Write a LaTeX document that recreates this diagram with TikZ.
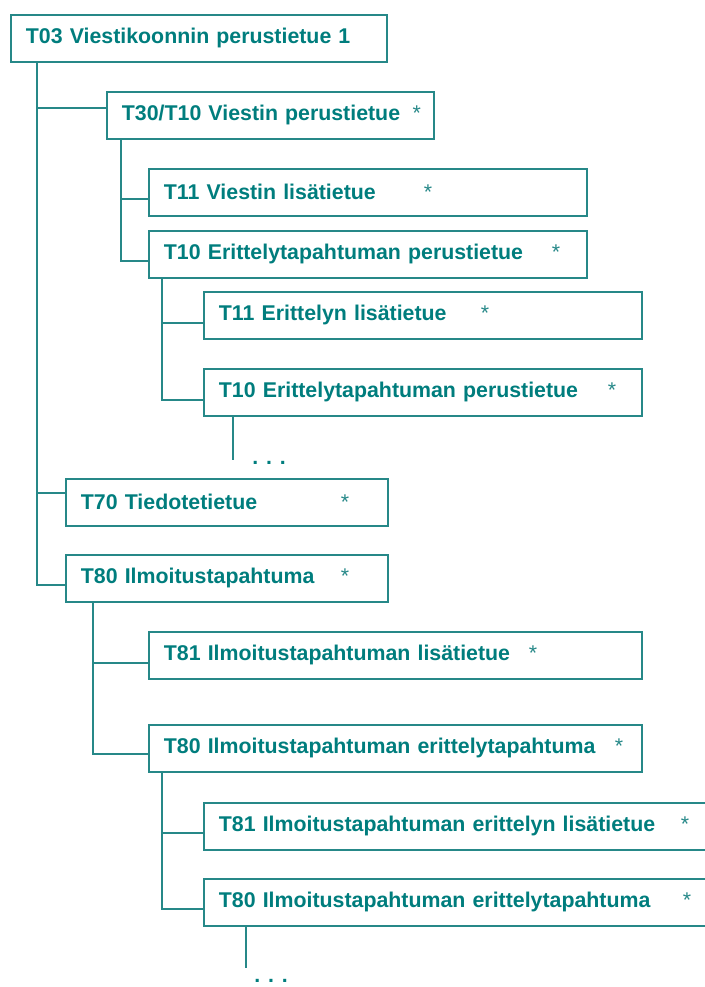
\documentclass[tikz,border=0pt]{standalone}
\usepackage{fontspec}
\setmainfont{Liberation Sans}
\usepackage{tikz}
\usepackage{xcolor}

\definecolor{boxteal}{RGB}{0,125,125}
\definecolor{lineteal}{RGB}{38,136,136}
\newcommand{\tabstar}[2]{\makebox[#1][l]{#2}{\mdseries\color{lineteal}*}}

\begin{document}
\begin{tikzpicture} [x=0.75pt, y=-0.75pt,
    rec/.style = {draw=lineteal, line width=1.4pt, anchor=north west, minimum height=35pt, inner xsep=11.25pt, inner ysep=0pt, align=left, text=boxteal, font=\bfseries\fontsize{16}{19}\selectfont},
    link/.style = {draw=lineteal, line width=1.4pt},
    dots/.style = {text=boxteal, font=\bfseries\fontsize{16}{19}\selectfont, inner sep=0pt, anchor=base west}]
    \useasboundingbox (0,0) rectangle (705,987);
    \clip (0,0) rectangle (705,987);

    \node[rec, text width=259.5pt] (t03) at (10,14) {T03 Viestikoonnin perustietue 1};
    \node[rec, text width=222.75pt] (t30) at (106,91) {\tabstar{218pt}{T30/T10 Viestin perustietue}};
    \node[rec, text width=306pt] (t11a) at (148,168) {\tabstar{195pt}{T11 Viestin lisätietue}};
    \node[rec, text width=306pt] (t10a) at (148,230) {\tabstar{291pt}{T10 Erittelytapahtuman perustietue}};
    \node[rec, text width=306pt] (t11b) at (203,291) {\tabstar{196.5pt}{T11 Erittelyn lisätietue}};
    \node[rec, text width=306pt] (t10b) at (203,368) {\tabstar{291.75pt}{T10 Erittelytapahtuman perustietue}};
    \node[rec, text width=219pt] (t70) at (65,478) {\tabstar{195pt}{T70 Tiedotetietue}};
    \node[rec, text width=219pt] (t80) at (65,554) {\tabstar{195pt}{T80 Ilmoitustapahtuma}};
    \node[rec, text width=347.25pt] (t81a) at (148,631) {\tabstar{273.75pt}{T81 Ilmoitustapahtuman lisätietue}};
    \node[rec, text width=347.25pt] (t80a) at (148,724) {\tabstar{338.25pt}{T80 Ilmoitustapahtuman erittelytapahtuma}};
    \node[rec, text width=367.5pt] (t81b) at (203,802) {\tabstar{346.5pt}{T81 Ilmoitustapahtuman erittelyn lisätietue}};
    \node[rec, text width=367.5pt] (t80b) at (203,878) {\tabstar{348pt}{T80 Ilmoitustapahtuman erittelytapahtuma}};

    \draw[link] ([xshift=20.25pt]t03.south west) |- ([yshift=5.25pt]t30.west);
    \draw[link] ([xshift=20.25pt]t03.south west) |- ([yshift=6.75pt]t70.west);
    \draw[link] ([xshift=20.25pt]t03.south west) |- ([yshift=-5pt]t80.west);

    \draw[link] ([xshift=11.25pt]t30.south west) |- ([yshift=-5.25pt]t11a.west);
    \draw[link] ([xshift=11.25pt]t30.south west) |- ([yshift=-5pt]t10a.west);

    \draw[link] ([xshift=10.5pt]t10a.south west) |- ([yshift=-5.5pt]t11b.west);
    \draw[link] ([xshift=10.5pt]t10a.south west) |- ([yshift=-5.5pt]t10b.west);

    \coordinate (e1) at (233,460);
    \draw[link] ([xshift=22.5pt]t10b.south west) -- (e1);
    \node[dots] (d1) at (252,464) {. . .};

    \draw[link] ([xshift=21pt]t80.south west) |- ([yshift=-5.5pt]t81a.west);
    \draw[link] ([xshift=21pt]t80.south west) |- ([yshift=-4.5pt]t80a.west);

    \draw[link] ([xshift=10.5pt]t80a.south west) |- ([yshift=-5.25pt]t81b.west);
    \draw[link] ([xshift=10.5pt]t80a.south west) |- ([yshift=-5pt]t80b.west);

    \coordinate (e2) at (246,968);
    \draw[link] ([xshift=32.25pt]t80b.south west) -- (e2);
    \node[dots] (d2) at (254,982) {. . .};

\end{tikzpicture}
\end{document}
